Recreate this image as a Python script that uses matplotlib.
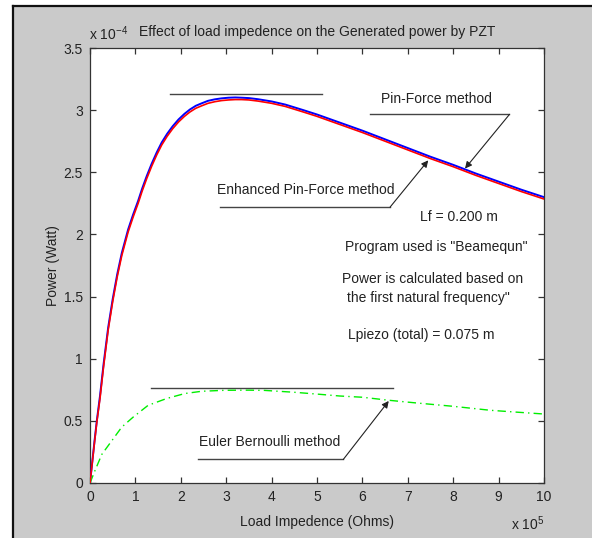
import matplotlib
matplotlib.use("Agg")
import matplotlib.pyplot as plt
from matplotlib.patches import Rectangle
from matplotlib.lines import Line2D

plt.rcParams['font.family'] = ['Liberation Sans', 'DejaVu Sans']
plt.rcParams['mathtext.fontset'] = 'custom'
plt.rcParams['mathtext.rm'] = 'Liberation Sans'
plt.rcParams['axes.unicode_minus'] = False

# ---- data (x in 1e5 Ohm, power in 1e-4 W) ----
load_x = [0, 0.05, 0.1, 0.15, 0.22, 0.3, 0.4, 0.5, 0.6, 0.7, 0.84, 0.95, 1.06, 1.15, 1.25,
          1.36, 1.47, 1.58, 1.7, 1.82, 1.95, 2.08, 2.2, 2.33, 2.46, 2.6, 2.75, 2.9,
          3.05, 3.2, 3.34, 3.5, 3.7, 4.0, 4.3, 4.7, 5.0, 5.5, 6.0, 6.5, 7.0, 7.5, 8.0,
          8.5, 9.0, 9.5, 10.0]
pin_force = [0, 0.17, 0.34, 0.50, 0.70, 0.96, 1.25, 1.48, 1.68, 1.85, 2.04, 2.16, 2.27,
             2.37, 2.47, 2.57, 2.66, 2.74, 2.81, 2.87, 2.925, 2.97, 3.005, 3.035, 3.055,
             3.075, 3.087, 3.095, 3.10, 3.102, 3.10, 3.097, 3.088, 3.07, 3.045, 3.00,
             2.965, 2.90, 2.835, 2.765, 2.695, 2.625, 2.56, 2.49, 2.425, 2.36, 2.30]
enhanced = [0, 0.165, 0.33, 0.49, 0.68, 0.94, 1.23, 1.46, 1.66, 1.83, 2.02, 2.14, 2.25,
            2.35, 2.45, 2.55, 2.64, 2.72, 2.79, 2.85, 2.905, 2.95, 2.985, 3.015, 3.035,
            3.055, 3.068, 3.077, 3.082, 3.085, 3.085, 3.082, 3.073, 3.055, 3.03, 2.985,
            2.95, 2.885, 2.82, 2.75, 2.68, 2.61, 2.545, 2.475, 2.41, 2.345, 2.285]
euler_x = [0, 0.11, 0.26, 0.48, 0.70, 0.95, 1.28, 1.69, 2.09, 2.46, 2.97, 3.5, 3.85, 4.5,
           5.08, 5.5, 6.0, 6.6, 7.16, 8.0, 8.82, 9.4, 10]
euler = [0, 0.10, 0.23, 0.34, 0.45, 0.53, 0.625, 0.68, 0.72, 0.738, 0.746, 0.747, 0.745,
         0.73, 0.713, 0.70, 0.69, 0.665, 0.645, 0.617, 0.585, 0.57, 0.555]

x_ticks = list(range(0, 11))
y_ticks = [0, 0.5, 1, 1.5, 2, 2.5, 3, 3.5]
y_tick_labels = ['0', '0.5', '1', '1.5', '2', '2.5', '3', '3.5']

title = 'Effect of load impedence on the Generated power by PZT'
xlabel = 'Load Impedence (Ohms)'
ylabel = 'Power (Watt)'

W, H = 592, 538
fig = plt.figure(figsize=(W / 100, H / 100), dpi=100)
fig.patch.set_facecolor('white')

# grey window background with dark top/left border
fig.patches.append(Rectangle((13 / W, 0), 1 - 13 / W, 1 - 6 / H, transform=fig.transFigure,
                             facecolor='#cacaca', edgecolor='none', zorder=-10))
fig.lines.append(Line2D([13 / W, 13 / W], [0, 1 - 6 / H], transform=fig.transFigure,
                        color='#111111', lw=1.6, zorder=-5))
fig.lines.append(Line2D([13 / W, 1], [1 - 6 / H, 1 - 6 / H], transform=fig.transFigure,
                        color='#111111', lw=1.6, zorder=-5))

ax = fig.add_axes([90 / W, (H - 483) / H, (544 - 90) / W, (483 - 48) / H])
ax.set_zorder(5)
ax.set_facecolor('white')
ax.set_xlim(0, 10)
ax.set_ylim(0, 3.5)

ax.plot(load_x, pin_force, color='#0000ff', lw=1.4, zorder=3)
ax.plot(load_x, enhanced, color='#ff0000', lw=1.2, zorder=4)
ax.plot(euler_x, euler, color='#00ee00', lw=1.0, dashes=(6, 3, 1, 3), zorder=3)

ax.set_xticks(x_ticks)
ax.set_xticklabels([str(t) for t in x_ticks])
ax.set_yticks(y_ticks)
ax.set_yticklabels(y_tick_labels)
ax.tick_params(direction='in', length=4, width=0.9, top=True, right=True,
               labelsize=10, colors='#333333', labelcolor='#222222', pad=5)
for s in ax.spines.values():
    s.set_color('#333333')
    s.set_linewidth(0.9)

ax.set_xlabel(xlabel, fontsize=10, color='#222222', labelpad=8)
ax.set_ylabel(ylabel, fontsize=10, color='#222222', labelpad=3)

fig.text(317 / W, 1 - 32 / H, title, ha='center', va='center', fontsize=10, color='#222222')
fig.text(89 / W, 1 - 40 / H, r'x 10$^{\mathregular{-4}}$', ha='left', va='baseline',
         fontsize=10, color='#222222')
fig.text(511 / W, 1 - 530 / H, r'x 10$^{\mathregular{5}}$', ha='left', va='baseline',
         fontsize=10, color='#222222')

lc = '#444444'
# reference line at peak
ax.plot([1.76, 5.12], [3.13, 3.13], color=lc, lw=1.0)
# Euler reference line
ax.plot([1.34, 6.68], [0.764, 0.764], color=lc, lw=1.0)

# Pin-Force label
ax.text(6.42, 3.087, 'Pin-Force method', fontsize=10, va='center', ha='left', color='#222222')
ax.plot([6.16, 9.24], [2.966, 2.966], color=lc, lw=1.0)
ax.annotate('', xy=(8.26, 2.53), xytext=(9.24, 2.966),
            arrowprops=dict(arrowstyle='-|>', color='#222222', lw=0.8,
                            mutation_scale=10, shrinkA=0, shrinkB=0))

# Enhanced label
ax.text(2.79, 2.36, 'Enhanced Pin-Force method', fontsize=10, va='center', ha='left',
        color='#222222')
ax.plot([2.86, 6.61], [2.22, 2.22], color=lc, lw=1.0)
ax.annotate('', xy=(7.45, 2.596), xytext=(6.61, 2.22),
            arrowprops=dict(arrowstyle='-|>', color='#222222', lw=0.8,
                            mutation_scale=10, shrinkA=0, shrinkB=0))

# Euler label
ax.text(2.4, 0.33, 'Euler Bernoulli method', fontsize=10, va='center', ha='left',
        color='#222222')
ax.plot([2.37, 5.58], [0.19, 0.19], color=lc, lw=1.0)
ax.annotate('', xy=(6.58, 0.66), xytext=(5.58, 0.19),
            arrowprops=dict(arrowstyle='-|>', color='#222222', lw=0.8,
                            mutation_scale=10, shrinkA=0, shrinkB=0))

# info text
def px2data(px, py):
    return (px - 90) / 45.4, (483 - py) / 124.3

for txt, (px, py) in [('Lf = 0.200 m', (420, 217)),
                      ('Program used is "Beamequn"', (345, 247)),
                      ('Power is calculated based on', (342, 279)),
                      ('the first natural frequency"', (347, 298)),
                      ('Lpiezo (total) = 0.075 m', (348, 335))]:
    dx, dy = px2data(px, py)
    ax.text(dx, dy, txt, fontsize=10, va='center', ha='left', color='#222222')

fig.savefig('out.png', dpi=100)
